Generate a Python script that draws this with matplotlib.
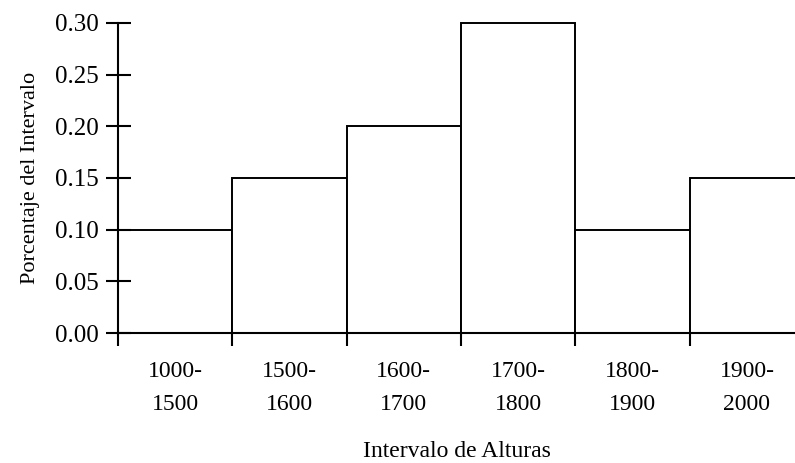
import numpy as np
import matplotlib.pyplot as plt

# Data
intervalos = ['1000-\n1500', '1500-\n1600', '1600-\n1700', '1700-\n1800', '1800-\n1900', '1900-\n2000']
porcentajes = [0.10, 0.15, 0.20, 0.30, 0.10, 0.15]
y_ticks = [0.00, 0.05, 0.10, 0.15, 0.20, 0.25, 0.30]

plt.rcParams['font.family'] = ['Liberation Serif', 'DejaVu Serif']

fig = plt.figure(figsize=(7.95, 4.63), dpi=100)
ax = fig.add_axes([118 / 795, 1 - 333 / 463, 1 - 118 / 795, (333 - 23) / 463])

pos = np.arange(len(porcentajes))
ax.bar(pos, porcentajes, width=1.0, align='edge', color='white',
       edgecolor='black', linewidth=1.4, clip_on=False)

ax.set_xlim(0, 5.92)
ax.set_ylim(0, 0.30)

# y axis
ax.set_yticks(y_ticks)
ax.set_yticklabels(['%.2f' % t for t in y_ticks])
ax.tick_params(axis='y', direction='inout', length=18, width=1.5,
               labelsize=18, pad=5)

# x axis: tick marks at the edges, labels in the middle
ax.set_xticks(np.arange(len(porcentajes)))
ax.set_xticklabels([])
ax.tick_params(axis='x', which='major', direction='out', length=9, width=1.5)
ax.set_xticks(pos + 0.5, minor=True)
ax.set_xticklabels(intervalos, minor=True, linespacing=1.75)
ax.tick_params(axis='x', which='minor', length=0, labelsize=17, pad=20)

for s in ['top', 'right']:
    ax.spines[s].set_visible(False)
for s in ['left', 'bottom']:
    ax.spines[s].set_linewidth(1.5)

ax.set_xlabel('Intervalo de Alturas', fontsize=17, labelpad=19)
ax.set_ylabel('Porcentaje del Intervalo', fontsize=16, labelpad=11)

fig.savefig('out.png', dpi=100)
